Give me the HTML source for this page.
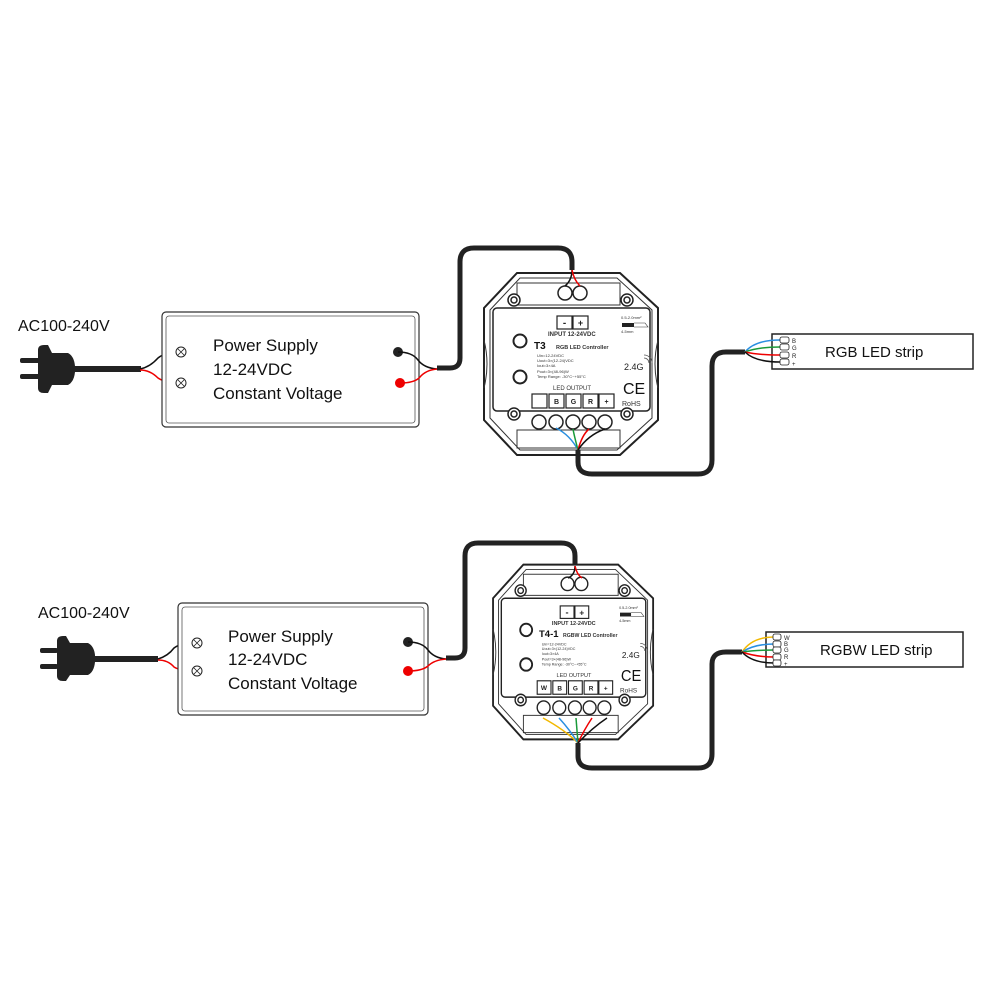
<!DOCTYPE html>
<html><head><meta charset="utf-8"><style>
html,body{margin:0;padding:0;background:#fff;}
svg{display:block;}
text{font-family:"Liberation Sans",sans-serif;}
</style></head><body>
<svg width="1000" height="1000" viewBox="0 0 1000 1000" xmlns="http://www.w3.org/2000/svg">
<defs>
<g id="ctrl">
  <path d="M517,273 L620,273 L658,308 L658,420 L620,455 L517,455 L484,420 L484,308 Z" fill="#fff" stroke="#222" stroke-width="2"/>
  <path d="M520,278 L617,278 L652,310 L652,418 L617,450 L520,450 L490,418 L490,310 Z" fill="none" stroke="#333" stroke-width="1"/>
  <rect x="517" y="283" width="103" height="22" fill="none" stroke="#333" stroke-width="1"/>
  <rect x="517" y="430" width="103" height="18" fill="none" stroke="#333" stroke-width="1"/>
  <path d="M484,340 Q490,364 484,388 M658,340 Q652,364 658,388" fill="none" stroke="#333" stroke-width="1"/>
  <rect x="493" y="308" width="157" height="103" rx="4" fill="#fff" stroke="#222" stroke-width="1.5"/>
  <g fill="#fff" stroke="#222" stroke-width="1.5">
    <circle cx="514" cy="300" r="6"/><circle cx="514" cy="300" r="3"/>
    <circle cx="627" cy="300" r="6"/><circle cx="627" cy="300" r="3"/>
    <circle cx="514" cy="414" r="6"/><circle cx="514" cy="414" r="3"/>
    <circle cx="627" cy="414" r="6"/><circle cx="627" cy="414" r="3"/>
    <circle cx="565" cy="293" r="7"/><circle cx="580" cy="293" r="7"/>
    <circle cx="539" cy="422" r="7"/><circle cx="556" cy="422" r="7"/><circle cx="573" cy="422" r="7"/><circle cx="589" cy="422" r="7"/><circle cx="605" cy="422" r="7"/>
    <circle cx="520" cy="341" r="6.5" stroke-width="2"/><circle cx="520" cy="377" r="6.5" stroke-width="2"/>
  </g>
  <g fill="#fff" stroke="#222" stroke-width="1.2">
    <rect x="557" y="316" width="15" height="13"/><rect x="573" y="316" width="15" height="13"/>
    <rect x="532" y="394" width="15" height="14"/><rect x="549" y="394" width="15" height="14"/><rect x="566" y="394" width="15" height="14"/><rect x="583" y="394" width="15" height="14"/><rect x="599" y="394" width="15" height="14"/>
  </g>
  <text x="564.5" y="326" font-size="10" font-weight="bold" text-anchor="middle" fill="#222">-</text>
  <text x="580.5" y="326" font-size="9" font-weight="bold" text-anchor="middle" fill="#222">+</text>
  <g font-size="7" font-weight="bold" text-anchor="middle" fill="#222">
    <text x="556.5" y="404">B</text><text x="573.5" y="404">G</text><text x="590.5" y="404">R</text><text x="606.5" y="404">+</text>
  </g>
  <text x="548" y="336" font-size="6" font-weight="bold" fill="#333">INPUT 12-24VDC</text>
  <g font-size="4" fill="#333">
    <text x="537" y="357">Uin=12-24VDC</text>
    <text x="537" y="362">Uout=3×(12-24)VDC</text>
    <text x="537" y="367">Iout=3×4A</text>
    <text x="537" y="373">Pout=3×(48-96)W</text>
    <text x="537" y="378">Temp Range: -30°C~+55°C</text>
    <text x="621" y="319">0.5-2.0mm²</text>
    <text x="621" y="333">4-5mm</text>
  </g>
  <rect x="622" y="323" width="12" height="4" fill="#222"/><path d="M634,323 L645,323 L648,327 L634,327" fill="none" stroke="#333" stroke-width="0.6"/>
  <text x="553" y="390" font-size="6" fill="#333">LED OUTPUT</text>
  <text x="624" y="370" font-size="9" fill="#222">2.4G</text>
  <path d="M644,358 a5,5 0 0 1 5,5 M644,355 a8,8 0 0 1 8,8" fill="none" stroke="#555" stroke-width="0.8"/>
  <text x="623" y="394" font-size="16" fill="#111">CE</text>
  <text x="622" y="406" font-size="7" fill="#333">RoHS</text>
</g>
</defs>

<!-- ===== TOP ===== -->
<text x="18" y="331" font-size="16" fill="#111">AC100-240V</text>
<rect x="20" y="358" width="20" height="5" rx="2" fill="#222"/>
<rect x="20" y="374" width="20" height="5" rx="2" fill="#222"/>
<path d="M38,350 Q38,345 44,345 L48,345 L52,353 L68,353 Q74,356 75,366 L75,372 Q74,382 68,385 L52,385 L48,393 L44,393 Q38,393 38,388 Z" fill="#222"/>
<rect x="74" y="366" width="67" height="6" fill="#222"/>
<path d="M140,369 Q150,367 158,358 Q165,352 181,352" fill="none" stroke="#111" stroke-width="1.5"/>
<path d="M140,370 Q150,370 158,378 Q165,383 181,383" fill="none" stroke="#e00" stroke-width="1.5"/>
<rect x="162" y="312" width="257" height="115" rx="4" fill="#fff" stroke="#333" stroke-width="1.2"/>
<rect x="166" y="316" width="249" height="107" rx="3" fill="none" stroke="#555" stroke-width="0.8"/>
<g fill="#fff" stroke="#222" stroke-width="1"><circle cx="181" cy="352" r="5"/><circle cx="181" cy="383" r="5"/></g>
<path d="M178,349 l6,6 m0,-6 l-6,6 M178,380 l6,6 m0,-6 l-6,6" stroke="#222" stroke-width="0.8"/>
<g font-size="17" fill="#111"><text x="213" y="351">Power Supply</text><text x="213" y="375">12-24VDC</text><text x="213" y="399">Constant Voltage</text></g>
<circle cx="398" cy="352" r="5" fill="#222"/><circle cx="400" cy="383" r="5" fill="#e00"/>
<path d="M398,352 Q412,352 418,360 Q424,368 437,369" fill="none" stroke="#111" stroke-width="1.5"/>
<path d="M400,383 Q415,383 420,377 Q426,370 437,369" fill="none" stroke="#e00" stroke-width="1.5"/>
<path d="M437,368 L450,368 Q460,368 460,358 L460,262 Q460,248 474,248 L558,248 Q572,248 572,262 L572,270" fill="none" stroke="#222" stroke-width="5"/>
<use href="#ctrl"/>
<path d="M572,270 Q572,280 565,286" fill="none" stroke="#111" stroke-width="1.5"/>
<path d="M572,270 Q574,280 580,286" fill="none" stroke="#e00" stroke-width="1.5"/>
<text x="534" y="349" font-size="10" font-weight="bold" fill="#111">T3</text>
<text x="556" y="349" font-size="5.5" font-weight="bold" fill="#333">RGB LED Controller</text>
<path d="M578,450 Q570,435 556,428" fill="none" stroke="#2a8fe0" stroke-width="1.5"/>
<path d="M578,450 Q574,435 573,429" fill="none" stroke="#1a9a3a" stroke-width="1.5"/>
<path d="M578,450 Q582,435 589,429" fill="none" stroke="#e00" stroke-width="1.5"/>
<path d="M578,450 Q588,435 605,429" fill="none" stroke="#111" stroke-width="1.5"/>
<path d="M578,450 L578,462 Q578,474 592,474 L698,474 Q712,474 712,460 L712,366 Q712,352 726,352 L745,352" fill="none" stroke="#222" stroke-width="5"/>
<rect x="772" y="334" width="201" height="35" fill="#fff" stroke="#222" stroke-width="1.5"/>
<path d="M745,352 Q755,340 780,340" fill="none" stroke="#2a8fe0" stroke-width="1.5"/>
<path d="M745,352 Q758,347 780,347" fill="none" stroke="#1a9a3a" stroke-width="1.5"/>
<path d="M745,352 Q758,355 780,355" fill="none" stroke="#e00" stroke-width="1.5"/>
<path d="M745,352 Q755,362 780,362" fill="none" stroke="#111" stroke-width="1.5"/>
<g fill="#fff" stroke="#222" stroke-width="0.8"><rect x="780" y="337" width="9" height="6" rx="2"/><rect x="780" y="344" width="9" height="6" rx="2"/><rect x="780" y="352" width="9" height="6" rx="2"/><rect x="780" y="359" width="9" height="6" rx="2"/></g>
<g font-size="6" fill="#222"><text x="792" y="343">B</text><text x="792" y="350">G</text><text x="792" y="358">R</text><text x="792" y="366">+</text></g>
<text x="825" y="357" font-size="15" fill="#111">RGB LED strip</text>

<!-- ===== BOTTOM ===== -->
<text x="38" y="618" font-size="16" fill="#111">AC100-240V</text>
<rect x="40" y="648" width="18" height="5" rx="2" fill="#222"/>
<rect x="40" y="664" width="18" height="5" rx="2" fill="#222"/>
<path d="M57,641 Q57,636 63,636 L66,636 L70,643 L88,643 Q94,646 95,655 L95,662 Q94,672 88,675 L70,675 L66,681 L63,681 Q57,681 57,676 Z" fill="#222"/>
<rect x="94" y="656" width="64" height="6" fill="#222"/>
<path d="M158,659 Q168,656 174,648 Q180,643 197,643" fill="none" stroke="#111" stroke-width="1.5"/>
<path d="M158,660 Q168,660 174,667 Q180,671 197,671" fill="none" stroke="#e00" stroke-width="1.5"/>
<rect x="178" y="603" width="250" height="112" rx="4" fill="#fff" stroke="#333" stroke-width="1.2"/>
<rect x="182" y="607" width="242" height="104" rx="3" fill="none" stroke="#555" stroke-width="0.8"/>
<g fill="#fff" stroke="#222" stroke-width="1"><circle cx="197" cy="643" r="5"/><circle cx="197" cy="671" r="5"/></g>
<path d="M194,640 l6,6 m0,-6 l-6,6 M194,668 l6,6 m0,-6 l-6,6" stroke="#222" stroke-width="0.8"/>
<g font-size="17" fill="#111"><text x="228" y="642">Power Supply</text><text x="228" y="665">12-24VDC</text><text x="228" y="689">Constant Voltage</text></g>
<circle cx="408" cy="642" r="5" fill="#222"/><circle cx="408" cy="671" r="5" fill="#e00"/>
<path d="M408,642 Q422,642 428,650 Q434,658 446,659" fill="none" stroke="#111" stroke-width="1.5"/>
<path d="M408,671 Q422,671 428,666 Q434,660 446,659" fill="none" stroke="#e00" stroke-width="1.5"/>
<path d="M446,658 L455,658 Q465,658 465,648 L465,556 Q465,543 478,543 L561,543 Q575,543 575,556 L575,566" fill="none" stroke="#222" stroke-width="5"/>
<g transform="translate(574,652) scale(0.92,0.96) translate(-572,-364)">
  <use href="#ctrl"/>
</g>
<path d="M575,566 Q575,575 568,578" fill="none" stroke="#111" stroke-width="1.5"/>
<path d="M575,566 Q577,575 582,578" fill="none" stroke="#e00" stroke-width="1.5"/>
<text x="539" y="637" font-size="9.5" font-weight="bold" fill="#111">T4-1</text>
<text x="563" y="637" font-size="5.2" font-weight="bold" fill="#333">RGBW LED Controller</text>
<text x="544" y="690" font-size="6.5" font-weight="bold" text-anchor="middle" fill="#222">W</text>
<path d="M578,743 Q565,730 543,718" fill="none" stroke="#f2b800" stroke-width="1.5"/>
<path d="M578,743 Q570,730 559,718" fill="none" stroke="#2a8fe0" stroke-width="1.5"/>
<path d="M578,743 L576,718" fill="none" stroke="#1a9a3a" stroke-width="1.5"/>
<path d="M578,743 Q584,730 592,718" fill="none" stroke="#e00" stroke-width="1.5"/>
<path d="M578,743 Q592,728 607,718" fill="none" stroke="#111" stroke-width="1.5"/>
<path d="M578,743 L578,756 Q578,768 592,768 L698,768 Q712,768 712,754 L712,664 Q712,652 726,652 L742,652" fill="none" stroke="#222" stroke-width="5"/>
<rect x="766" y="632" width="197" height="35" fill="#fff" stroke="#222" stroke-width="1.5"/>
<path d="M742,652 Q752,637 774,637" fill="none" stroke="#f2b800" stroke-width="1.5"/>
<path d="M742,652 Q754,644 774,644" fill="none" stroke="#2a8fe0" stroke-width="1.5"/>
<path d="M742,652 Q756,650 774,650" fill="none" stroke="#1a9a3a" stroke-width="1.5"/>
<path d="M742,652 Q756,657 774,657" fill="none" stroke="#e00" stroke-width="1.5"/>
<path d="M742,652 Q752,663 774,663" fill="none" stroke="#111" stroke-width="1.5"/>
<g fill="#fff" stroke="#222" stroke-width="0.8"><rect x="773" y="634" width="8" height="6" rx="2"/><rect x="773" y="641" width="8" height="6" rx="2"/><rect x="773" y="647" width="8" height="6" rx="2"/><rect x="773" y="654" width="8" height="6" rx="2"/><rect x="773" y="660" width="8" height="6" rx="2"/></g>
<g font-size="6" fill="#222"><text x="784" y="640">W</text><text x="784" y="646">B</text><text x="784" y="652">G</text><text x="784" y="659">R</text><text x="784" y="666">+</text></g>
<text x="820" y="655" font-size="15" fill="#111">RGBW LED strip</text>
</svg>
</body></html>
